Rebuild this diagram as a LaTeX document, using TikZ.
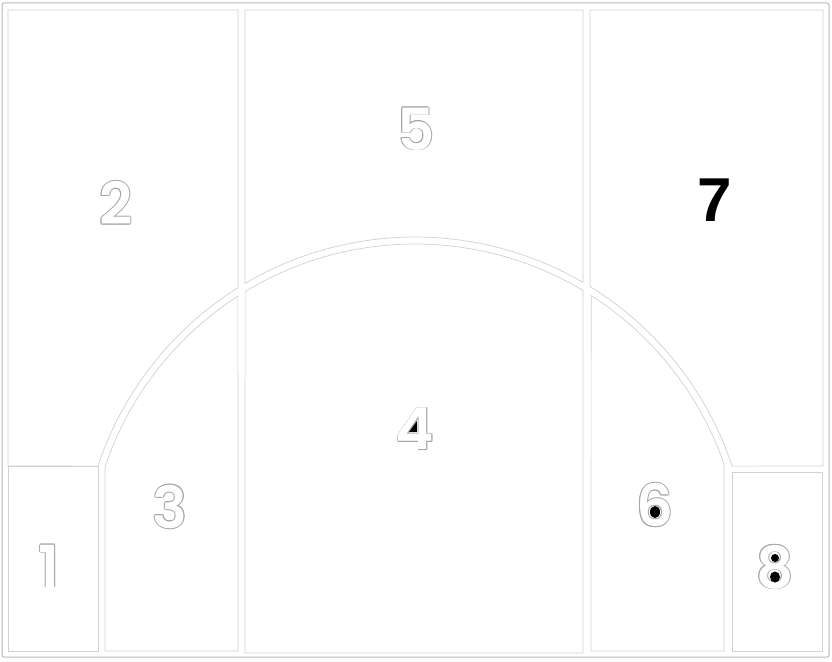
\documentclass[tikz,border=0pt]{standalone}
\usepackage{fontspec}
\setmainfont{Poppins}
\newfontfamily\numfont{Poppins SemiBold}
\newfontfamily\sevenfont{Liberation Sans}
\usetikzlibrary{calc}
\tikzset{
  region/.style={fill=white, draw=black!18, line width=0.7pt, line join=miter},
  frameline/.style={draw=black!28, line width=1pt, rounded corners=2pt},
  numtxt/.style={inner sep=0pt, anchor=center, font=\numfont\fontsize{58}{58}\selectfont},
  hole/.style={fill=black, draw=none}
}
\newcommand\ringnum[3]{%
  \foreach \dx/\dy in {0.7/0,-0.7/0,0/0.7,0/-0.7,0.5/0.5,-0.5/0.5,0.5/-0.5,-0.5/-0.5}{%
    \node[numtxt,text=black!35] at ([shift={(\dx,\dy)}]#2) {#3};}
  \node[numtxt,text=white] (#1) at (#2) {#3};}
\begin{document}
\begin{tikzpicture}[x=1pt,y=-1pt]
\useasboundingbox (0,0) rectangle (832,661);
\fill[white] (0,0) rectangle (832,661);
\coordinate (C) at (415,571);
% outer frame
\draw[frameline] (2,3) rectangle (829,657);
% region 2 (left wing)
\draw[region] (8,10) -- (238,10) -- ($(C)+(238:334)$) arc[start angle=238,end angle=198.3,radius=334] -- (8,466) -- cycle;
% region 5 (top)
\draw[region] (245,10) -- (583,10) -- ($(C)+(300.2:334)$) arc[start angle=300.2,end angle=239.4,radius=334] -- cycle;
% region 7 (right wing)
\draw[region] (590,10) -- (823,10) -- (823,466) -- ($(C)+(341.7:334)$) arc[start angle=341.7,end angle=301.6,radius=334] -- cycle;
% region 1 (left corner)
\draw[region] (8,466) rectangle (98,651);
% region 3
\draw[region] ($(C)+(198.5:327)$) arc[start angle=198.5,end angle=237.2,radius=327] -- (238,651) -- (105,651) -- cycle;
% region 4 (paint)
\draw[region] ($(C)+(238.7:327)$) arc[start angle=238.7,end angle=300.9,radius=327] -- (583,653) -- (245,653) -- cycle;
% region 6
\draw[region] ($(C)+(302.6:327)$) arc[start angle=302.6,end angle=340.9,radius=327] -- (724,651) -- (591,651) -- cycle;
% region 8 (right corner)
\draw[region] (732,472) rectangle (822,651);
% numbers
\ringnum{n1}{49,566}{1}
\ringnum{n2}{116,203}{2}
\ringnum{n3}{170,507}{3}
\ringnum{n4}{415,429}{4}
\ringnum{n5}{416,129}{5}
\ringnum{n6}{655,505}{6}
\ringnum{n8}{775,567}{8}
\node[inner sep=0pt, font=\sevenfont\bfseries\fontsize{62}{62}\selectfont] (n7) at (715,200) {7};
% filled counters
\fill[hole] (409,432) -- (417,421) -- (417,432) -- cycle;
\fill[hole] (655,512) ellipse[x radius=5,y radius=6];
\fill[hole] (775,558) circle[radius=4];
\fill[hole] (775,577) ellipse[x radius=5,y radius=5.5];
\end{tikzpicture}
\end{document}
